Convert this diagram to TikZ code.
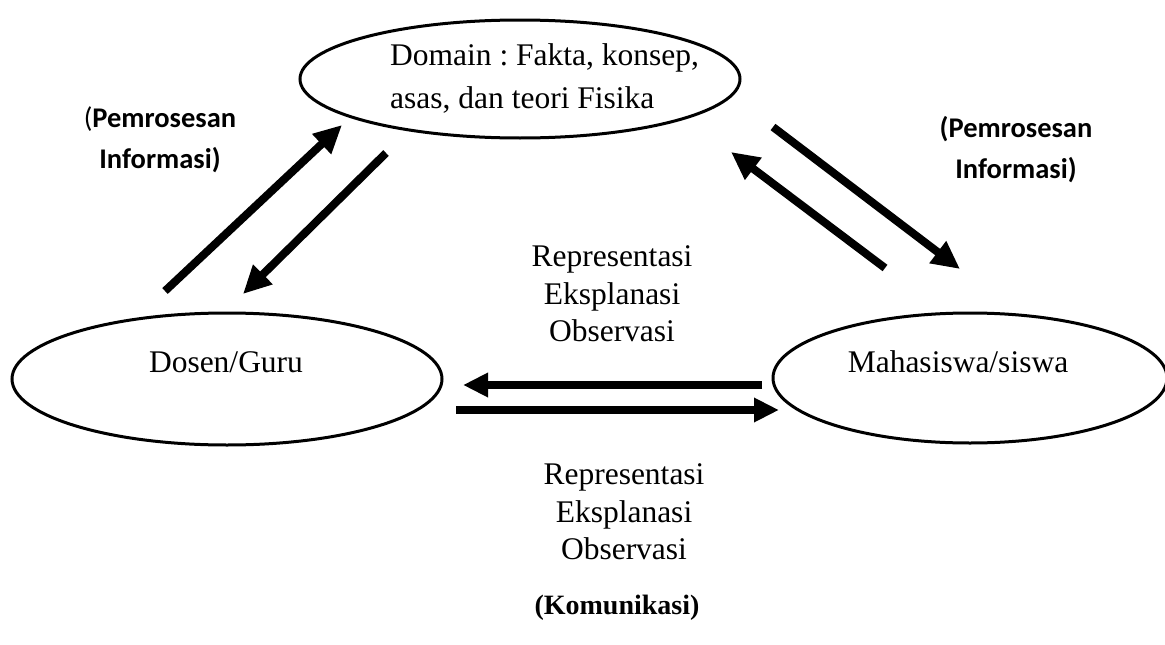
\documentclass[tikz,border=0pt]{standalone}
\usepackage{fontspec}
\setmainfont{Liberation Serif}
\newfontfamily\calibri{Carlito}
\usetikzlibrary{shapes.geometric,arrows.meta}
\frenchspacing
\tikzset{
  oval/.style={draw,ellipse,line width=3pt,inner sep=0pt},
  txt/.style={inner sep=0pt,font=\fontsize{31.5}{37.5}\selectfont,align=center},
  lbl/.style={inner sep=0pt,font=\calibri\fontsize{28.5}{41}\selectfont,align=center},
  bigarrow/.style={line width=8pt,-{Triangle[length=28pt,width=26pt]}},
  harrow/.style={line width=8pt,-{Triangle[length=25pt,width=23pt]}}
}
\begin{document}
\begin{tikzpicture}[x=1pt,y=-1pt]
\useasboundingbox (0,0) rectangle (1165,645);
% ellipses
\node[oval,minimum width=440pt,minimum height=118pt] (domain) at (520,79) {};
\node[oval,minimum width=430pt,minimum height=132pt] (dosen) at (227,379) {};
\node[oval,minimum width=394pt,minimum height=130pt] (mhs) at (970,378) {};
% ellipse texts
\node[txt,anchor=base west,align=left,font=\fontsize{31.5}{43}\selectfont] (domainT) at (390,108) {Domain : Fakta, konsep,\\asas, dan teori Fisika};
\node[txt,anchor=base] (dosenT) at (226,372) {Dosen/Guru};
\node[txt,anchor=base] (mhsT) at (958,372) {Mahasiswa/siswa};
% middle labels
\node[txt] (rep1) at (612,294) {Representasi\\Eksplanasi\\Observasi};
\node[txt] (rep2) at (624,512) {Representasi\\Eksplanasi\\Observasi};
\node[txt,font=\bfseries\fontsize{28}{34}\selectfont] (kom) at (617,608) {(Komunikasi)};
% side labels
\node[lbl] (pl) at (160,140) {({\bfseries Pemrosesan}\\{\bfseries Informasi)}};
\node[lbl,font=\calibri\bfseries\fontsize{28.5}{41}\selectfont] (pr) at (1016,150) {(Pemrosesan\\Informasi)};
% arrow end points
\coordinate (a1s) at (165,291); \coordinate (a1e) at (342,125);
\coordinate (a2s) at (386,153); \coordinate (a2e) at (243,294);
\coordinate (a3s) at (773,127); \coordinate (a3e) at (960,269);
\coordinate (a4s) at (885,268); \coordinate (a4e) at (731,152);
\coordinate (h1s) at (762,385); \coordinate (h1e) at (463,385);
\coordinate (h2s) at (456,410); \coordinate (h2e) at (779,410);
% arrows
\draw[bigarrow] (a1s) -- (a1e);
\draw[bigarrow] (a2s) -- (a2e);
\draw[bigarrow] (a3s) -- (a3e);
\draw[bigarrow] (a4s) -- (a4e);
\draw[harrow] (h1s) -- (h1e);
\draw[harrow] (h2s) -- (h2e);
\end{tikzpicture}
\end{document}
